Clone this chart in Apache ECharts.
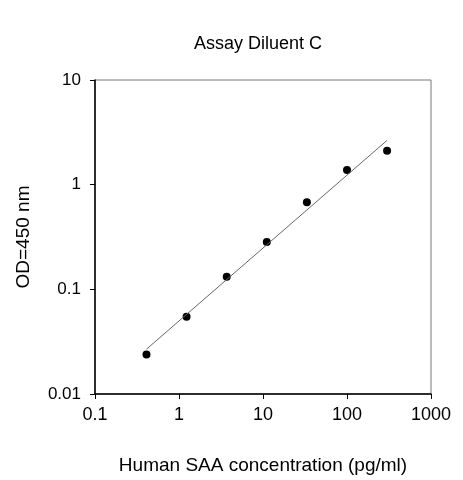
<!DOCTYPE html><html><head><meta charset="utf-8"><script src="https://cdn.jsdelivr.net/npm/echarts@6/dist/echarts.min.js"></script></head><body style="margin:0"><div id="c" style="width:463px;height:480px"></div><script>
const conc=[0.41,1.23,3.7,11.1,33.3,100,300];
const od=[0.0238,0.0548,0.132,0.284,0.679,1.38,2.11];
const fitX=[0.41,300];
const fitY=[0.0268,2.65];
const ch=echarts.init(document.getElementById('c'));
const F='Arial, Liberation Sans, sans-serif';
const fmt=v=>String(+v.toPrecision(3));
ch.setOption({animation:false,
title:{text:'Assay Diluent C',left:253,top:30,textAlign:'center',textStyle:{fontFamily:F,fontWeight:'normal',fontSize:18,color:'#000'}},
grid:{left:95,right:32,top:80,bottom:86,show:true,borderColor:'#777',borderWidth:1},
xAxis:{type:'log',min:0.1,max:1000,logBase:10,name:'Human SAA concentration (pg/ml)',nameLocation:'middle',nameGap:62,nameTextStyle:{fontFamily:F,fontSize:19,color:'#000'},
axisLine:{lineStyle:{color:'#000',width:1.5}},axisTick:{length:5,lineStyle:{color:'#000'}},minorTick:{show:false},splitLine:{show:false},axisLabel:{fontFamily:F,fontSize:18,color:'#000',margin:12,formatter:fmt}},
yAxis:{type:'log',min:0.01,max:10,logBase:10,name:'OD=450 nm',nameLocation:'middle',nameGap:62,nameTextStyle:{fontFamily:F,fontSize:19,color:'#000'},
axisLine:{lineStyle:{color:'#000',width:1.5}},axisTick:{length:5,lineStyle:{color:'#000'}},splitLine:{show:false},axisLabel:{fontFamily:F,fontSize:17,color:'#000',margin:14,formatter:fmt}},
series:[{type:'line',data:fitX.map((x,i)=>[x,fitY[i]]),symbol:'none',lineStyle:{color:'#666',width:1}},
{type:'scatter',data:conc.map((x,i)=>[x,od[i]]),symbolSize:8,itemStyle:{color:'#000',opacity:1}}]});
</script></body></html>
